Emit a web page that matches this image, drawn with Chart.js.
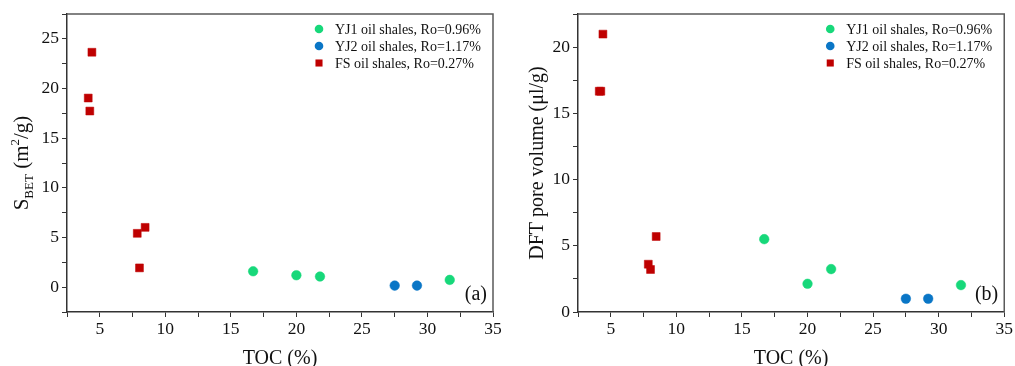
<!DOCTYPE html>
<html>
<head>
<meta charset="utf-8">
<script src="https://cdn.jsdelivr.net/npm/chart.js@4/dist/chart.umd.min.js"></script>
<style>
  html, body { margin: 0; padding: 0; background: #ffffff; }
  #wrap { position: relative; width: 1015px; height: 366px; overflow: hidden; }
  .pane { position: absolute; top: 0; height: 366px; }
</style>
</head>
<body>
<div id="wrap">
  <div class="pane" style="left:0;width:507px;"><canvas id="chartA" width="507" height="366"></canvas></div>
  <div class="pane" style="left:507px;width:508px;"><canvas id="chartB" width="508" height="366"></canvas></div>
</div>
<script>
// ---- Data ----
const seriesLabels = ['YJ1 oil shales, Ro=0.96%', 'YJ2 oil shales, Ro=1.17%', 'FS oil shales, Ro=0.27%'];

const tocYJ1 = [16.7, 20.0, 21.8, 31.7];
const tocYJ2 = [27.5, 29.2];
const tocFS  = [4.4, 4.12, 4.24, 7.86, 8.03, 8.46];

// (a) BET specific surface area, m2/g
const sbetYJ1 = [1.6, 1.2, 1.07, 0.73];
const sbetYJ2 = [0.16, 0.16];
const sbetFS  = [23.65, 19.04, 17.73, 5.42, 1.94, 6.02];

// (b) DFT pore volume, ul/g
const dftYJ1 = [5.5, 2.13, 3.24, 2.03];
const dftYJ2 = [1.0, 1.0];
const dftFS  = [20.98, 16.67, 16.67, 3.61, 3.21, 5.7];

const xTickRange = { min: 2.5, max: 35, step: 2.5 };
const yRangeA = { min: -2.5, max: 27.5, step: 2.5 };
const yRangeB = { min: 0, max: 22.5, step: 2.5 };
const panelLabels = ['(a)', '(b)'];

// ---- Styles ----
const COLORS = ['#17d87a', '#0a76c6', '#bf0000'];
const STYLES = ['circle', 'circle', 'rect'];
const RADII = [4.8, 4.8, 5.6];
const SERIF = '"Liberation Serif", "Times New Roman", serif';
const AXIS = '#333333';

function pts(xs, ys) { return xs.map((x, i) => ({ x: x, y: ys[i] })); }

function makeDatasets(yj1, yj2, fs) {
  const groups = [pts(tocYJ1, yj1), pts(tocYJ2, yj2), pts(tocFS, fs)];
  return groups.map((d, i) => ({
    label: seriesLabels[i],
    data: d,
    pointStyle: STYLES[i],
    pointRadius: RADII[i],
    pointHoverRadius: RADII[i],
    backgroundColor: COLORS[i],
    borderColor: COLORS[i],
    borderWidth: 0.5,
    showLine: false
  }));
}

const framePlugin = {
  id: 'frame',
  afterDraw(chart) {
    const { ctx, chartArea: a } = chart;
    const o = chart.options.plugins.frame;
    ctx.save();
    ctx.strokeStyle = '#5a5a5a';
    ctx.lineWidth = 1.5;
    ctx.beginPath();
    ctx.moveTo(a.left, a.top);
    ctx.lineTo(a.right, a.top);
    ctx.lineTo(a.right, a.bottom);
    ctx.stroke();
    // panel label
    ctx.fillStyle = '#111';
    ctx.font = '20px ' + SERIF;
    ctx.textAlign = 'right';
    ctx.textBaseline = 'alphabetic';
    ctx.fillText(o.panel, a.right - 6, a.bottom - 12);
    // legend inside the plot
    ctx.font = '14px ' + SERIF;
    ctx.textAlign = 'left';
    ctx.textBaseline = 'middle';
    const x0 = a.right - 174, y0 = a.top + 15, dy = 17;
    chart.data.datasets.forEach((ds, i) => {
      const y = y0 + i * dy;
      ctx.fillStyle = ds.backgroundColor;
      Chart.helpers.drawPoint(ctx, {
        pointStyle: ds.pointStyle,
        radius: ds.pointStyle === 'rect' ? 5 : 4.3,
        rotation: 0, borderWidth: 0
      }, x0, y);
      ctx.fillStyle = '#111';
      ctx.fillText(ds.label, x0 + 16, y + 1);
    });
    // rich y title (subscript / superscript)
    if (o.richY) {
      const parts = [
        { t: 'S', s: 21, dy: 0 },
        { t: 'BET', s: 13, dy: 5 },
        { t: ' (m', s: 21, dy: 0 },
        { t: '2', s: 13, dy: -9 },
        { t: '/g)', s: 21, dy: 0 }
      ];
      let total = 0;
      parts.forEach(p => { ctx.font = p.s + 'px ' + SERIF; p.w = ctx.measureText(p.t).width; total += p.w; });
      ctx.translate(28, (a.top + a.bottom) / 2);
      ctx.rotate(-Math.PI / 2);
      ctx.textBaseline = 'alphabetic';
      let x = -total / 2;
      parts.forEach(p => {
        ctx.font = p.s + 'px ' + SERIF;
        ctx.fillText(p.t, x, p.dy);
        x += p.w;
      });
    }
    ctx.restore();
  }
};

function makeChart(id, datasets, yr, yLeftWidth, padRight, panel, yTitle) {
  const tickFont = { family: SERIF, size: 17.5 };
  const labelEvery5 = v => (Math.abs(v / 5 - Math.round(v / 5)) < 1e-9 ? String(v) : '');
  return new Chart(document.getElementById(id), {
    type: 'scatter',
    data: { datasets: datasets },
    plugins: [framePlugin],
    options: {
      responsive: false,
      animation: false,
      devicePixelRatio: 1,
      layout: { padding: { top: 14, right: padRight, bottom: 0, left: 0 } },
      plugins: {
        legend: { display: false },
        tooltip: { enabled: false },
        frame: { panel: panel, richY: !yTitle }
      },
      scales: {
        x: {
          type: 'linear',
          min: xTickRange.min, max: xTickRange.max,
          afterFit: s => { s.height = 54; },
          ticks: { stepSize: xTickRange.step, autoSkip: false, maxRotation: 0, color: '#111', font: tickFont, padding: 2, callback: labelEvery5 },
          grid: { display: true, drawOnChartArea: false, drawTicks: true, tickLength: 5, color: AXIS, lineWidth: 1 },
          border: { display: true, color: AXIS, width: 1.5 },
          title: { display: true, text: 'TOC (%)', color: '#111', font: { family: SERIF, size: 20, lineHeight: 1 }, padding: { top: 0, bottom: -3 } }
        },
        y: {
          type: 'linear',
          min: yr.min, max: yr.max,
          afterFit: s => { s.width = yLeftWidth; },
          ticks: { stepSize: yr.step, autoSkip: false, color: '#111', font: tickFont, padding: 3, callback: labelEvery5 },
          grid: { display: true, drawOnChartArea: false, drawTicks: true, tickLength: 5, color: AXIS, lineWidth: 1 },
          border: { display: true, color: AXIS, width: 1.5 },
          title: yTitle ? { display: true, text: yTitle, color: '#111', font: { family: SERIF, size: 20, lineHeight: 1 }, padding: { top: 21, bottom: 0 } } : { display: false }
        }
      }
    }
  });
}

makeChart('chartA', makeDatasets(sbetYJ1, sbetYJ2, sbetFS), yRangeA, 67, 14, panelLabels[0], null);
makeChart('chartB', makeDatasets(dftYJ1, dftYJ2, dftFS), yRangeB, 71, 9, panelLabels[1], 'DFT pore volume (\u03bcl/g)');
</script>
</body>
</html>
